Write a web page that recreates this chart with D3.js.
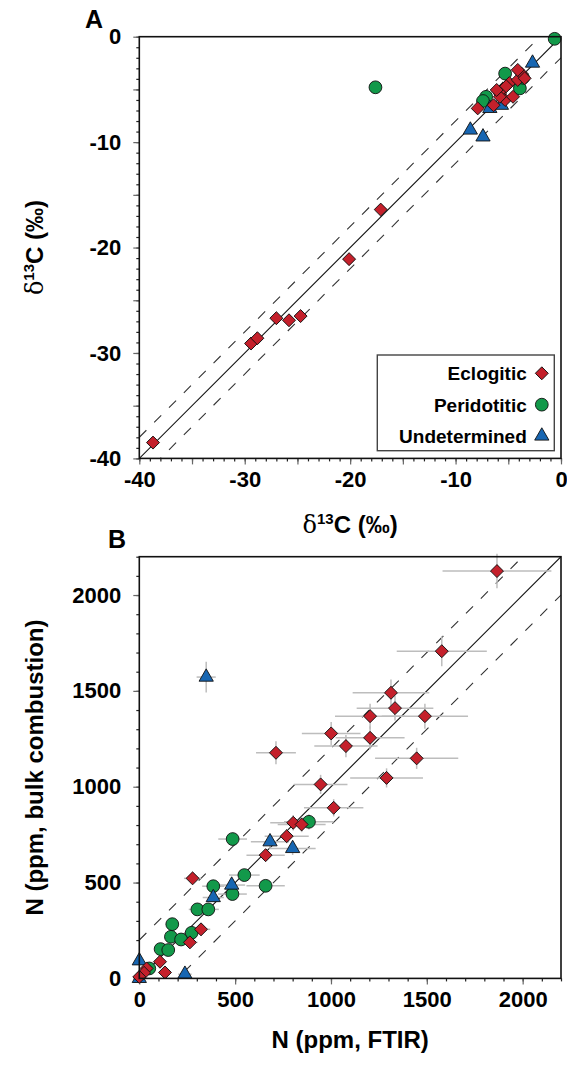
<!DOCTYPE html>
<html>
<head>
<meta charset="utf-8">
<script src="https://cdn.jsdelivr.net/npm/d3@7"></script>
<style>
  body { margin: 0; background: #fff; }
  svg text { font-family: "Liberation Sans", Arial, sans-serif; font-weight: bold; fill: #000; }
</style>
</head>
<body>
<svg id="chart" width="567" height="1066"></svg>
<script>
// Panel A: delta13C, [x, y]
const aTicks = [-40, -30, -20, -10, 0];
const aEclogitic = [
  [-38.7, -38.5], [-29.4, -29.1], [-28.8, -28.6], [-27.0, -26.7], [-25.8, -26.9],
  [-24.7, -26.5], [-20.1, -21.1], [-17.1, -16.4],
  [-7.9, -6.8], [-6.4, -6.5], [-5.3, -6.0], [-4.55, -5.7], [-5.8, -5.4], [-5.5, -4.9],
  [-4.9, -4.4], [-4.1, -4.1], [-3.75, -3.5], [-4.1, -3.15], [-3.45, -3.95], [-5.8, -5.7],
  [-6.1, -5.05], [-5.2, -4.7]
];
const aPeridotitic = [
  [-0.6, -0.2], [-5.3, -3.5], [-7.1, -5.7], [-7.4, -6.1], [-3.9, -4.9], [-3.6, -3.9],
  [-17.6, -4.8]
];
const aUndetermined = [
  [-2.7, -2.5], [-8.6, -8.85], [-7.4, -9.5], [-6.75, -6.8], [-5.65, -6.5]
];

// Panel B: N ppm, [FTIR, bulk, FTIR err, bulk err]
const bTicks = [0, 500, 1000, 1500, 2000];
const bEclogitic = [
  [1866, 2125, 284, 90], [1578, 1707, 235, 78], [1313, 1490, 200, 70], [1334, 1410, 200, 65],
  [1204, 1368, 183, 65], [1490, 1368, 225, 65], [1001, 1278, 153, 60], [1204, 1255, 180, 60],
  [1078, 1212, 165, 58], [713, 1177, 104, 60], [1447, 1148, 217, 55], [1290, 1046, 190, 50],
  [946, 1012, 140, 50], [1014, 890, 155, 45], [803, 812, 120, 40], [847, 803, 125, 40],
  [769, 742, 115, 37], [659, 643, 100, 32], [278, 522, 45, 25], [322, 256, 48, 13],
  [264, 188, 40, 10], [108, 87, 16, 5], [134, 31, 20, 3], [38, 52, 6, 3], [25, 29, 4, 2],
  [0, 8, 2, 1]
];
const bPeridotitic = [
  [885, 817, 130, 40], [487, 727, 75, 35], [548, 539, 80, 27], [659, 483, 100, 24],
  [386, 481, 58, 24], [486, 440, 75, 22], [303, 360, 45, 18], [360, 360, 55, 18],
  [172, 283, 26, 14], [273, 238, 40, 12], [165, 217, 25, 11], [218, 203, 33, 10],
  [111, 153, 17, 8], [151, 148, 23, 7], [52, 52, 8, 3]
];
const bUndetermined = [
  [349, 1572, 50, 80], [800, 678, 120, 34], [682, 713, 100, 36], [482, 487, 70, 24],
  [386, 422, 55, 21], [238, 22, 35, 2], [0, 92, 2, 5], [0, 0, 2, 1]
];

const colors = { ecl: '#c4202b', per: '#12994a', und: '#1766b2' };
const svg = d3.select('#chart');
const left = 139.3;
const size = 421.7;

const diamond = d3.symbol().type(d3.symbolSquare).size(84);
const circle = d3.symbol().type(d3.symbolCircle).size(128);
const triangle = d3.symbol().type(d3.symbolTriangle).size(88);

function drawPanel(cfg) {
  const g = svg.append('g').attr('transform', `translate(${left}, ${cfg.top})`);
  const x = d3.scaleLinear().domain(cfg.domain).range([0, size]);
  const y = d3.scaleLinear().domain(cfg.domain).range([size, 0]);

  // minor, major and labelled ticks
  const minor = d3.range(cfg.domain[0], cfg.domain[1] + cfg.minor / 2, cfg.minor);
  const major = d3.range(cfg.domain[0], cfg.domain[1] + cfg.major / 2, cfg.major);
  const xAx = g.append('g').attr('transform', `translate(0, ${size})`);
  const yAx = g.append('g');
  xAx.append('g').call(d3.axisBottom(x).tickValues(minor).tickSize(3).tickFormat(''));
  xAx.append('g').attr('class', 'maj').call(d3.axisBottom(x).tickValues(major).tickSize(6).tickFormat(''));
  xAx.append('g').attr('class', 'lab').call(d3.axisBottom(x).tickValues(cfg.ticks).tickSize(0).tickPadding(13));
  yAx.append('g').call(d3.axisLeft(y).tickValues(minor).tickSize(3).tickFormat(''));
  yAx.append('g').attr('class', 'maj').call(d3.axisLeft(y).tickValues(major).tickSize(6).tickFormat(''));
  yAx.append('g').attr('class', 'lab').call(d3.axisLeft(y).tickValues(cfg.ticks).tickSize(0).tickPadding(18));
  g.selectAll('.domain').remove();
  g.selectAll('.tick line').attr('stroke', '#222').attr('stroke-width', 1.2);
  g.selectAll('.maj .tick line').attr('stroke', '#666');
  g.selectAll('.lab text').style('font-size', '22px').style('font-family', '"Liberation Sans", Arial, sans-serif')
    .style('font-weight', 'bold').text(d => (d < 0 ? '-' + Math.abs(d) : d));

  // clip area for lines
  const clipId = 'clip' + cfg.name;
  g.append('clipPath').attr('id', clipId).append('rect').attr('width', size).attr('height', size);
  const lines = g.append('g').attr('clip-path', `url(#${clipId})`);
  const [d0, d1] = cfg.domain;
  [-cfg.offset, cfg.offset].forEach(off => {
    lines.append('line')
      .attr('x1', x(d0)).attr('y1', y(d0 + off))
      .attr('x2', x(d1)).attr('y2', y(d1 + off))
      .attr('stroke', '#333').attr('stroke-width', 1.1).attr('stroke-dasharray', '10,11');
  });
  lines.append('line')
    .attr('x1', x(d0)).attr('y1', y(d0)).attr('x2', x(d1)).attr('y2', y(d1))
    .attr('stroke', '#111').attr('stroke-width', 1.1);

  // error bars
  if (cfg.errors) {
    const eb = g.append('g').attr('stroke', '#bdbdbd').attr('stroke-width', 1.5);
    cfg.series.forEach(s => {
      s.data.forEach(d => {
        eb.append('line').attr('x1', x(d[0] - d[2])).attr('x2', x(d[0] + d[2]))
          .attr('y1', y(d[1])).attr('y2', y(d[1]));
        eb.append('line').attr('x1', x(d[0])).attr('x2', x(d[0]))
          .attr('y1', y(d[1] - d[3])).attr('y2', y(d[1] + d[3]));
      });
    });
  }

  // markers
  cfg.series.forEach(s => {
    g.append('g').selectAll('path').data(s.data).enter().append('path')
      .attr('d', s.sym)
      .attr('transform', d => `translate(${x(d[0])}, ${y(d[1])})${s.rot ? ' rotate(45)' : ''}`)
      .attr('fill', s.color).attr('stroke', '#111').attr('stroke-width', 0.9);
  });

  // frame
  g.append('rect').attr('width', size).attr('height', size)
    .attr('fill', 'none').attr('stroke', '#111').attr('stroke-width', 1.6);

  // panel letter
  svg.append('text').attr('x', cfg.letterX).attr('y', cfg.top - 9).style('font-size', '25px').text(cfg.name);

  return g;
}

function deltaLabel(sel) {
  sel.append('tspan').style('font-family', '"DejaVu Serif", "Liberation Serif", serif').style('font-weight', 'normal').text('δ');
  sel.append('tspan').attr('dy', -9).style('font-size', '15px').text('13');
  sel.append('tspan').attr('dy', 9).text('C (‰)');
}

// Panel A
drawPanel({
  name: 'A', top: 36.7, domain: [-40, 0], minor: 1, major: 5, ticks: aTicks, offset: 2, letterX: 85,
  errors: false,
  series: [
    { data: aPeridotitic, sym: circle, color: colors.per },
    { data: aUndetermined, sym: triangle, color: colors.und },
    { data: aEclogitic, sym: diamond, color: colors.ecl, rot: true }
  ]
});

// Panel B
drawPanel({
  name: 'B', top: 556.7, domain: [0, 2200], minor: 100, major: 500, ticks: bTicks, offset: 200, letterX: 108,
  errors: true,
  series: [
    { data: bPeridotitic, sym: circle, color: colors.per },
    { data: bUndetermined, sym: triangle, color: colors.und },
    { data: bEclogitic, sym: diamond, color: colors.ecl, rot: true }
  ]
});

// axis titles
svg.append('text').attr('x', left + size / 2).attr('y', 533).attr('text-anchor', 'middle')
  .style('font-size', '24px').call(deltaLabel);
svg.append('text').attr('transform', `translate(43, ${36.7 + size / 2}) rotate(-90)`).attr('text-anchor', 'middle')
  .style('font-size', '24px').call(deltaLabel);
svg.append('text').attr('x', left + size / 2).attr('y', 1048).attr('text-anchor', 'middle')
  .style('font-size', '24px').text('N (ppm, FTIR)');
svg.append('text').attr('transform', `translate(43, ${556.7 + size / 2}) rotate(-90)`).attr('text-anchor', 'middle')
  .style('font-size', '24px').text('N (ppm, bulk combustion)');

// legend
const legendItems = [
  { label: 'Eclogitic', sym: diamond, color: colors.ecl, rot: true },
  { label: 'Peridotitic', sym: circle, color: colors.per },
  { label: 'Undetermined', sym: triangle, color: colors.und }
];
const legend = svg.append('g').attr('transform', 'translate(377.3, 355)');
legend.append('rect').attr('width', 177).attr('height', 95.7)
  .attr('fill', '#fff').attr('stroke', '#444').attr('stroke-width', 1.4);
const rowY = d3.scalePoint().domain(legendItems.map(d => d.label)).range([18.3, 81]);
legendItems.forEach(item => {
  const yy = rowY(item.label);
  legend.append('text').attr('x', 149.5).attr('y', yy + 7).attr('text-anchor', 'end')
    .style('font-size', '19px').text(item.label);
  legend.append('path').attr('d', item.sym)
    .attr('transform', `translate(164.5, ${yy})${item.rot ? ' rotate(45)' : ''}`)
    .attr('fill', item.color).attr('stroke', '#111').attr('stroke-width', 0.9);
});
</script>
</body>
</html>
